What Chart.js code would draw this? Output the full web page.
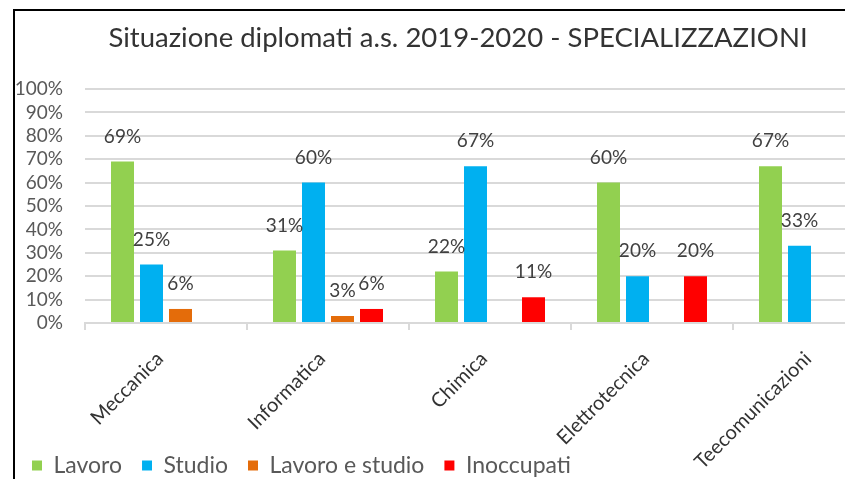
<!DOCTYPE html>
<html lang="it">
<head>
<meta charset="utf-8">
<title>Situazione diplomati a.s. 2019-2020</title>
<script src="https://cdn.jsdelivr.net/npm/chart.js@4.4.1/dist/chart.umd.min.js"></script>
<style>
  html, body { margin: 0; padding: 0; background: #fff; overflow: hidden; }
  #wrap { position: relative; width: 845px; height: 479px; overflow: hidden; }
  #cornice {
    position: absolute; left: 13px; top: 9px; width: 900px; height: 500px;
    border-top: 2px solid #000; border-left: 2px solid #000;
  }
  #grafico { position: absolute; left: 0; top: 0; }
</style>
</head>
<body>
<div id="wrap">
  <div id="cornice"></div>
  <canvas id="grafico" width="905" height="600"></canvas>
</div>
<script>
// dati per specializzazione (valori in %)
const specializzazioni = ["Meccanica", "Informatica", "Chimica", "Elettrotecnica", "Teecomunicazioni"];
const lavoro = [69, 31, 22, 60, 67];
const studio = [25, 60, 67, 20, 33];
const lavoroEStudio = [6, 3, null, null, null];
const inoccupati = [null, 6, 11, 20, null];
const tickY = [0, 10, 20, 30, 40, 50, 60, 70, 80, 90, 100];

const FONT = "Lato, 'Open Sans', sans-serif";
const LEGENDA_TOP = 434;
const LEGENDA_LEFT = 12;
const TITOLO_LEFT = 21;

// scrive la percentuale sopra ogni barra
const etichetteValori = {
  id: "etichetteValori",
  afterDatasetsDraw(chart) {
    const ctx = chart.ctx;
    ctx.save();
    ctx.font = "19px " + FONT;
    ctx.fillStyle = "#404040";
    ctx.textAlign = "center";
    ctx.textBaseline = "middle";
    chart.data.datasets.forEach((ds, i) => {
      chart.getDatasetMeta(i).data.forEach((bar, j) => {
        const v = ds.data[j];
        if (v == null) return;
        ctx.fillText(v + "%", bar.x, bar.y - 25);
      });
    });
    ctx.restore();
  }
};

// la legenda sta accanto alle etichette ruotate dell'asse x,
// il titolo è centrato sull'intero riquadro
const sistemaBlocchi = {
  id: "sistemaBlocchi",
  afterLayout(chart) {
    const lg = chart.legend;
    const h = lg.height, w = lg.width;
    lg.top = LEGENDA_TOP;
    lg.bottom = LEGENDA_TOP + h;
    lg.left = LEGENDA_LEFT;
    lg.right = LEGENDA_LEFT + w;
    chart.titleBlock.left = TITOLO_LEFT;
  }
};

const serie = {
  barPercentage: 0.793,
  categoryPercentage: 0.716,
  borderWidth: 0
};

new Chart(document.getElementById("grafico"), {
  type: "bar",
  data: {
    labels: specializzazioni,
    datasets: [
      { label: "Lavoro", data: lavoro, backgroundColor: "#92D050", ...serie },
      { label: "Studio", data: studio, backgroundColor: "#00B0F0", ...serie },
      { label: "Lavoro e studio", data: lavoroEStudio, backgroundColor: "#E46C0A", ...serie },
      { label: "Inoccupati", data: inoccupati, backgroundColor: "#FF0000", ...serie }
    ]
  },
  options: {
    responsive: false,
    animation: false,
    layout: { padding: { left: 9, right: 10, top: 0, bottom: 0 } },
    scales: {
      x: {
        afterFit: (s) => { s.height = 224; },
        grid: { drawOnChartArea: false, drawTicks: true, tickLength: 7, color: "#d9d9d9", lineWidth: 2 },
        border: { display: true, color: "#d9d9d9", width: 2 },
        ticks: {
          minRotation: 45, maxRotation: 45, autoSkip: false, padding: 17, labelOffset: -6,
          color: "#333", font: { family: FONT, size: 20 }
        }
      },
      y: {
        min: 0, max: 100,
        afterFit: (s) => { s.width = 76; },
        afterBuildTicks: (s) => { s.ticks = tickY.map(v => ({ value: v })); },
        grid: { color: "#d9d9d9", lineWidth: 2, drawTicks: false },
        border: { display: false },
        ticks: {
          autoSkip: false,
          padding: 22, color: "#595959", font: { family: FONT, size: 19 },
          callback: (v) => v + "%"
        }
      }
    },
    plugins: {
      title: {
        display: true,
        text: "Situazione diplomati a.s. 2019-2020 - SPECIALIZZAZIONI",
        color: "#333",
        font: { family: FONT, size: 27.5, weight: "normal" },
        padding: { top: 21.5, bottom: 34.5 }
      },
      legend: {
        position: "bottom",
        align: "start",
        labels: {
          boxWidth: 10, boxHeight: 10, padding: 20,
          color: "#595959", font: { family: FONT, size: 23 }
        }
      },
      tooltip: { enabled: false }
    }
  },
  plugins: [etichetteValori, sistemaBlocchi]
});
</script>
</body>
</html>
